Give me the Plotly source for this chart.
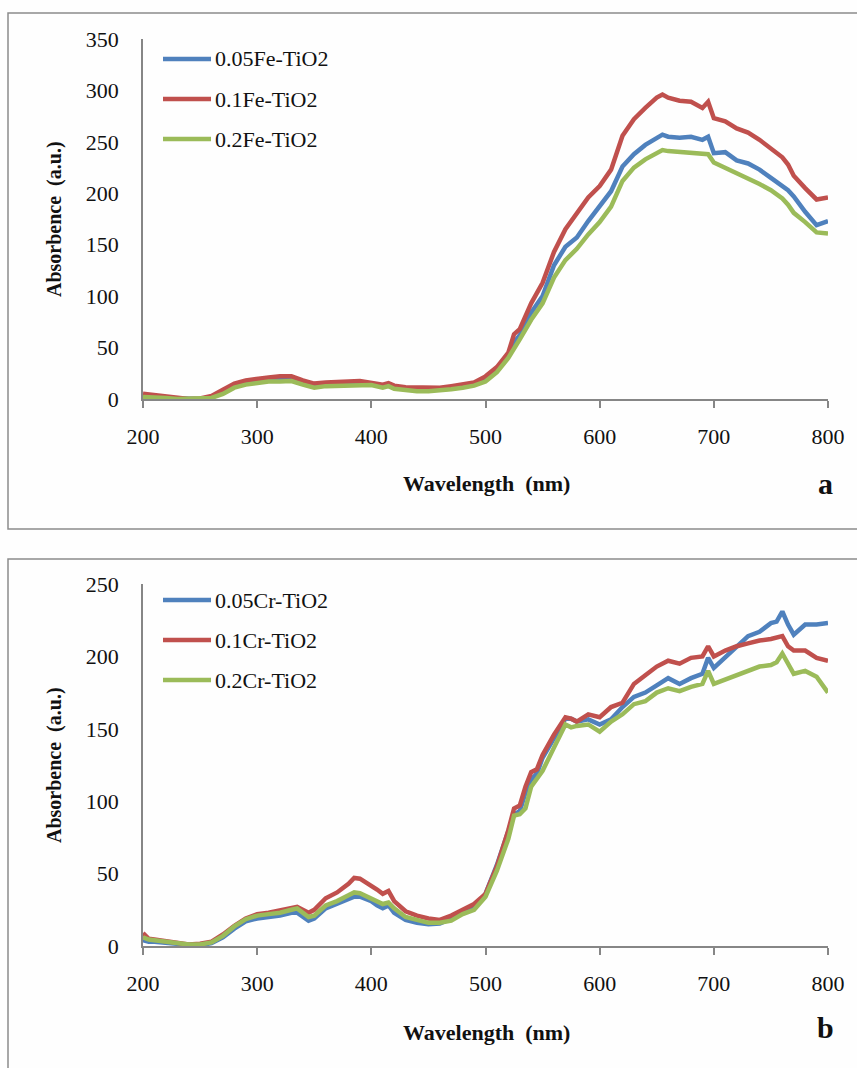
import plotly.graph_objects as go

W, H = 857, 1068

# ---- Panel a: Fe-doped TiO2 ----
wl_a = [200, 210, 220, 230, 240, 250, 260, 270, 280, 290, 300, 310, 320, 330, 340,
        350, 360, 370, 380, 390, 400, 410, 415, 420, 430, 440, 450, 460, 470, 480,
        490, 500, 510, 520, 525, 530, 540, 550, 560, 570, 580, 590, 600, 610, 620,
        630, 640, 650, 655, 660, 670, 680, 690, 695, 700, 710, 720, 730, 740, 750,
        760, 765, 770, 780, 790, 800]
fe_005 = [3, 3, 1, 0.5, 0, 0, 2, 7, 13, 16, 18, 19, 19.5, 20, 16,
          13, 14, 14.5, 15, 15.5, 15, 12.5, 14, 11.5, 10, 9, 9, 9.5, 11, 13,
          15, 20, 29, 43, 55, 62, 84, 100, 130, 148, 157, 173, 187, 202, 226,
          238, 247, 254, 257, 255, 254, 255, 252, 255, 239, 240, 232, 229, 223, 215,
          207, 203, 197, 182, 169, 173]
fe_01 = [5, 4, 2, 1, 0, 0.5, 3, 9, 15, 18, 20, 21, 22, 22, 18,
         15, 16, 16, 17, 17.5, 16, 14, 15.5, 13, 11.5, 11, 10.5, 11, 12.5, 14,
         16, 22, 31, 45, 63, 68, 93, 113, 143, 165, 180, 196, 207, 223, 256,
         272, 283, 293, 296, 293, 290, 289, 283, 289, 273, 270, 263, 259, 252, 243,
         235, 228, 217, 205, 194, 196]
fe_02 = [2, 2, 1, 0, 0, 0, 1, 5, 11, 14, 16, 17, 17, 17.5, 14,
         11, 12.5, 13, 13.5, 14, 13.5, 11, 12.5, 10, 8.5, 7.5, 7.5, 8, 9.5, 11,
         13, 17, 26, 40, 50, 58, 77, 93, 118, 135, 146, 160, 172, 187, 212,
         225, 233, 239, 242, 241, 240, 239, 239, 238, 230, 225, 219, 215, 209, 203,
         195, 189, 181, 172, 162, 161]

# ---- Panel b: Cr-doped TiO2 ----
wl_b = [200, 205, 210, 220, 230, 240, 250, 260, 270, 280, 290, 300, 310, 320, 330,
        335, 345, 350, 360, 370, 380, 385, 390, 400, 405, 410, 415, 420, 430, 440,
        450, 460, 470, 480, 490, 500, 510, 520, 525, 530, 535, 540, 545, 550, 560,
        570, 575, 580, 590, 600, 610, 620, 630, 640, 650, 660, 670, 680, 690, 695,
        700, 710, 720, 730, 740, 750, 755, 760, 765, 770, 780, 790, 800]
cr_005 = [4, 3, 3, 2.5, 1.5, 0.5, 0.5, 2, 6, 12, 17, 19, 20, 21, 23,
          23, 17.5, 19, 26, 29, 32, 34, 34, 31, 28, 26, 28, 23, 18, 16,
          15, 15.5, 19, 23, 26, 36, 56, 78, 91, 93, 106, 115, 119, 130, 144,
          157, 157, 155, 156.5, 153, 156.5, 165, 172, 175, 180, 185, 181, 185, 188, 199,
          192, 199, 207, 214, 217, 223, 224, 231, 222, 215, 222, 222, 223]
cr_01 = [9, 5, 4.5, 3.5, 2, 1, 1.5, 3, 8, 14, 19, 22, 23, 24.5, 26.5,
         27, 23, 25, 33, 37, 43, 47, 46.5, 42, 39, 36, 38, 31, 24, 21,
         19, 18, 21, 25, 29, 36, 55, 80, 95, 97, 110, 120, 122, 132, 146,
         158, 157, 155, 160, 158, 165, 168, 181, 187, 193, 197, 195, 199, 200, 207,
         200, 204, 207, 209, 211, 212, 213, 214, 207, 204, 204, 199, 197]
cr_02 = [6, 4.5, 4, 3, 2, 1, 1, 2.5, 7, 13.5, 18.5, 21, 22, 23, 25,
         26, 20, 21, 28, 31, 35, 37, 36.5, 33, 31, 29, 30, 26, 20, 18,
         16, 16, 17.5, 22, 25, 34, 52, 74, 90, 91, 95, 110, 116, 121, 137,
         153, 151, 152, 153, 148, 155, 160, 167, 169, 175, 178, 176, 179, 181, 190,
         181, 184, 187, 190, 193, 194, 196, 202, 195, 188, 190, 186, 175]

names_a = ["0.05Fe-TiO2", "0.1Fe-TiO2", "0.2Fe-TiO2"]
names_b = ["0.05Cr-TiO2", "0.1Cr-TiO2", "0.2Cr-TiO2"]
colors = ["#4F81BD", "#C0504D", "#9BBB59"]

x_ticks = [200, 300, 400, 500, 600, 700, 800]
y_ticks_a = [0, 50, 100, 150, 200, 250, 300, 350]
y_ticks_b = [0, 50, 100, 150, 200, 250]

SERIF = "Liberation Serif, Times New Roman, serif"
AXIS_GREY = "#868686"
LINE_W = 4.5


def px(x):
    return x / W


def py(y):
    return 1 - y / H


fig = go.Figure()
for vals, name, col in zip([fe_005, fe_01, fe_02], names_a, colors):
    fig.add_trace(go.Scatter(x=wl_a, y=vals, name=name, mode="lines",
                             line=dict(color=col, width=LINE_W),
                             xaxis="x", yaxis="y", showlegend=False))
for vals, name, col in zip([cr_005, cr_01, cr_02], names_b, colors):
    fig.add_trace(go.Scatter(x=wl_b, y=vals, name=name, mode="lines",
                             line=dict(color=col, width=LINE_W),
                             xaxis="x2", yaxis="y2", showlegend=False))

xdom = [px(143), px(828)]
common_x = dict(range=[200, 800], tickvals=x_ticks, showgrid=False, zeroline=False,
                showline=True, linecolor=AXIS_GREY, linewidth=1.5,
                ticks="outside", ticklen=7, tickcolor=AXIS_GREY, tickwidth=1.5,
                tickfont=dict(family=SERIF, size=22, color="#111"),
                ticklabelstandoff=10, automargin=False, fixedrange=True)
common_y = dict(showgrid=False, zeroline=False, showline=True, linecolor=AXIS_GREY,
                linewidth=1.5, ticks="", tickfont=dict(family=SERIF, size=22, color="#111"),
                ticklabelstandoff=18, automargin=False, fixedrange=True)

annotations = []
shapes = []

panels = [
    # (plot top px, plot bottom px, y max, y ticks, names, legend rows,
    #  x axis, y axis, letter, frame top, frame bottom, title y, letter y)
    (39, 399, 350, y_ticks_a, names_a, [59, 99, 139], "x", "y", "a", 13, 529, 483, 483),
    (584, 946, 250, y_ticks_b, names_b, [600, 640, 680], "x2", "y2", "b", 559, 1100, 1032, 1027),
]

layout_axes = {}
for (ytop, ybot, ymax, yt, names, rows, xa, ya, lab, btop, bbot, ty, ly) in panels:
    xkey = "xaxis" if xa == "x" else "xaxis2"
    ykey = "yaxis" if ya == "y" else "yaxis2"
    layout_axes[xkey] = dict(common_x, domain=xdom, anchor=ya)
    layout_axes[ykey] = dict(common_y, domain=[py(ybot), py(ytop)], anchor=xa,
                             range=[0, ymax], tickvals=yt)

    # panel frame
    shapes.append(dict(type="rect", xref="paper", yref="paper",
                       x0=px(8), x1=px(900), y0=py(bbot), y1=py(btop),
                       line=dict(color="#8c8c8c", width=1.5)))

    # legend samples and labels
    for r, name, col in zip(rows, names, colors):
        shapes.append(dict(type="line", xref="paper", yref="paper",
                           x0=px(163), x1=px(211), y0=py(r), y1=py(r),
                           line=dict(color=col, width=LINE_W)))
        annotations.append(dict(x=px(213), y=py(r), xref="paper", yref="paper",
                                text=name, showarrow=False, xanchor="left",
                                yanchor="middle",
                                font=dict(family=SERIF, size=22, color="#111")))

    # axis titles
    annotations.append(dict(x=px(54), y=py((ytop + ybot) / 2), xref="paper", yref="paper",
                            text="<b>Absorbence\u00a0 (a.u.)</b>", textangle=-90,
                            showarrow=False, xanchor="center", yanchor="middle",
                            font=dict(family=SERIF, size=20, color="#111")))
    annotations.append(dict(x=px(486), y=py(ty), xref="paper", yref="paper",
                            text="<b>Wavelength\u00a0 (nm)</b>", showarrow=False,
                            xanchor="center", yanchor="middle",
                            font=dict(family=SERIF, size=22, color="#111")))
    # panel letter
    annotations.append(dict(x=px(825), y=py(ly), xref="paper", yref="paper",
                            text="<b>%s</b>" % lab, showarrow=False,
                            xanchor="center", yanchor="middle",
                            font=dict(family=SERIF, size=30, color="#111")))

fig.update_layout(
    width=W, height=H,
    margin=dict(l=0, r=0, t=0, b=0, autoexpand=False),
    paper_bgcolor="#FEFEFE", plot_bgcolor="rgba(0,0,0,0)",
    showlegend=False,
    shapes=shapes, annotations=annotations,
    **layout_axes,
)

fig.write_html("out.html", config={"displayModeBar": False})
